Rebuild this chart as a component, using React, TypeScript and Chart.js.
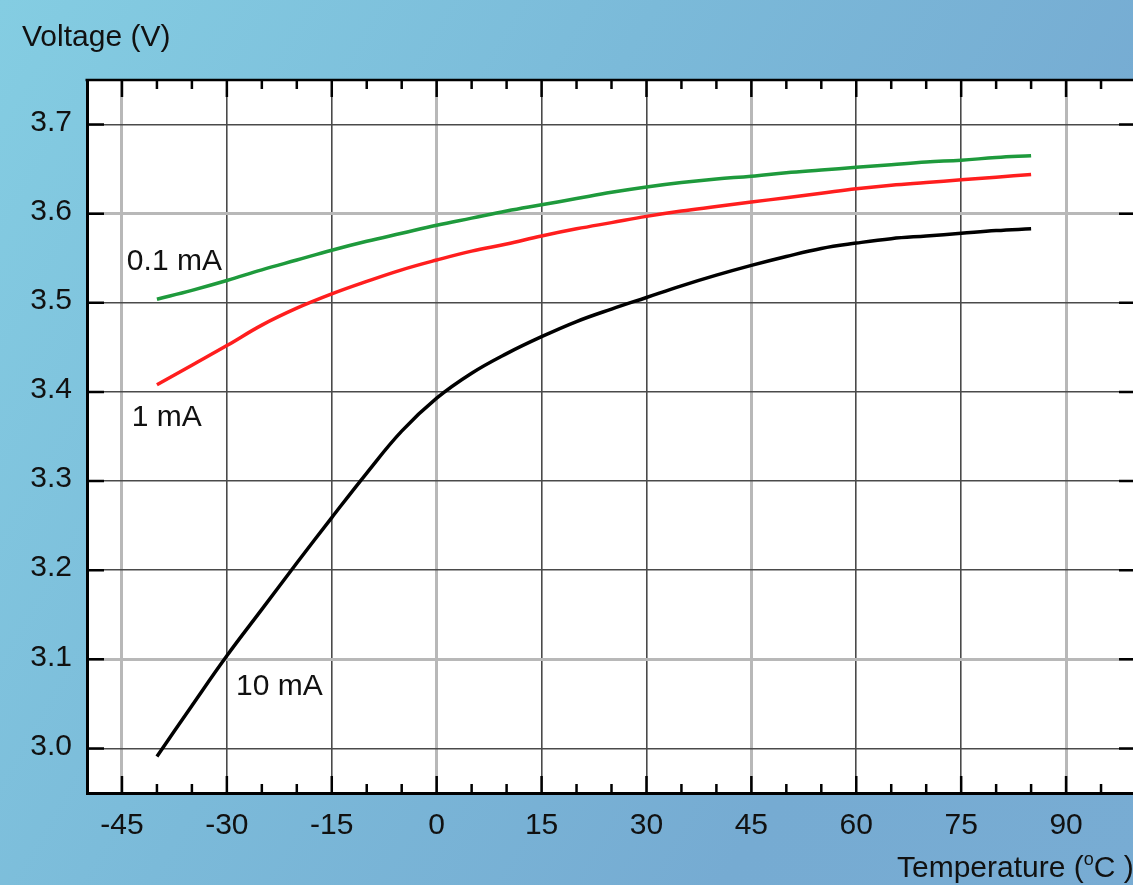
import React, { useEffect, useRef } from "react";
import { Chart, registerables } from "chart.js";

Chart.register(...registerables);

const temperatures = [-40, -35, -30, -25, -20, -15, -10, -5, 0, 5, 10, 15, 20, 25, 30, 35, 40, 45, 50, 55, 60, 65, 70, 75, 80, 85];
const v01mA = [3.504, 3.514, 3.525, 3.537, 3.548, 3.559, 3.569, 3.578, 3.587, 3.595, 3.603, 3.610, 3.617, 3.624, 3.630, 3.635, 3.639, 3.642, 3.646, 3.649, 3.652, 3.655, 3.658, 3.660, 3.663, 3.665];
const v1mA = [3.408, 3.430, 3.452, 3.475, 3.494, 3.510, 3.524, 3.537, 3.548, 3.558, 3.566, 3.575, 3.583, 3.590, 3.597, 3.603, 3.608, 3.613, 3.618, 3.623, 3.628, 3.632, 3.635, 3.638, 3.641, 3.644];
const v10mA = [2.991, 3.048, 3.104, 3.156, 3.208, 3.259, 3.309, 3.356, 3.393, 3.421, 3.443, 3.462, 3.479, 3.493, 3.506, 3.519, 3.531, 3.542, 3.552, 3.561, 3.567, 3.572, 3.575, 3.578, 3.581, 3.583];

const xTickValues = [-45, -30, -15, 0, 15, 30, 45, 60, 75, 90];
const xMinorTickValues = [-40, -35, -25, -20, -10, -5, 5, 10, 20, 25, 35, 40, 50, 55, 65, 70, 80, 85, 95];
const yTickValues = [3.0, 3.1, 3.2, 3.3, 3.4, 3.5, 3.6, 3.7];
const xLightGrid = [-45, 0, 45, 90];
const yLightGrid = [3.1, 3.6];

const seriesNames = ["0.1 mA", "1 mA", "10 mA"];
const seriesLabelTemp = [-44.3, -43.6, -28.7];
const seriesLabelVolt = [3.546, 3.371, 3.069];

const xTitle = "Temperature (";
const xTitleSup = "o";
const xTitleEnd = "C )";
const yTitle = "Voltage (V)";

const FONT = "'Liberation Sans', Arial, sans-serif";

const decorPlugin = {
  id: "decor",
  beforeDraw(chart: any) {
    const { ctx, chartArea } = chart;
    ctx.save();
    ctx.fillStyle = "#ffffff";
    ctx.fillRect(chartArea.left, chartArea.top, chartArea.right - chartArea.left, chartArea.bottom - chartArea.top);
    ctx.restore();
  },
  beforeDatasetsDraw(chart: any) {
    const { ctx, chartArea, scales } = chart;
    const x = scales.x;
    const y = scales.y;
    ctx.save();
    ctx.strokeStyle = "#000";
    ctx.lineWidth = 2.5;
    ctx.beginPath();
    ctx.moveTo(chartArea.left - 1.5, chartArea.top);
    ctx.lineTo(chartArea.right, chartArea.top);
    ctx.moveTo(chartArea.right, chartArea.top);
    ctx.lineTo(chartArea.right, chartArea.bottom);
    for (const v of xTickValues) {
      const px = x.getPixelForValue(v);
      ctx.moveTo(px, chartArea.top);
      ctx.lineTo(px, chartArea.top + 17);
      ctx.moveTo(px, chartArea.bottom);
      ctx.lineTo(px, chartArea.bottom - 17);
    }
    for (const v of xMinorTickValues) {
      const px = x.getPixelForValue(v);
      ctx.moveTo(px, chartArea.top);
      ctx.lineTo(px, chartArea.top + 9);
      ctx.moveTo(px, chartArea.bottom);
      ctx.lineTo(px, chartArea.bottom - 9);
    }
    for (const v of yTickValues) {
      const py = y.getPixelForValue(v);
      ctx.moveTo(chartArea.left, py);
      ctx.lineTo(chartArea.left + 17, py);
      ctx.moveTo(chartArea.right, py);
      ctx.lineTo(chartArea.right - 17, py);
    }
    ctx.stroke();
    ctx.restore();
  },
  afterDraw(chart: any) {
    const { ctx, scales } = chart;
    const x = scales.x;
    const y = scales.y;
    ctx.save();
    ctx.fillStyle = "#111";
    ctx.textBaseline = "middle";
    ctx.textAlign = "left";
    ctx.font = `30px ${FONT}`;
    seriesNames.forEach((name, i) => {
      ctx.fillText(name, x.getPixelForValue(seriesLabelTemp[i]), y.getPixelForValue(seriesLabelVolt[i]));
    });
    ctx.textBaseline = "alphabetic";
    ctx.fillText(yTitle, 22, 46);
    let tx = 897;
    const ty = 877;
    ctx.fillText(xTitle, tx, ty);
    tx += ctx.measureText(xTitle).width;
    ctx.font = `18px ${FONT}`;
    ctx.fillText(xTitleSup, tx, ty - 12);
    tx += ctx.measureText(xTitleSup).width;
    ctx.font = `30px ${FONT}`;
    ctx.fillText(xTitleEnd, tx, ty);
    ctx.restore();
  },
};

export default function App() {
  const canvasRef = useRef<HTMLCanvasElement | null>(null);

  useEffect(() => {
    document.body.style.margin = "0";
    document.body.style.overflow = "hidden";
    const canvas = canvasRef.current;
    if (!canvas) return;
    const mk = (label: string, vals: number[], color: string) => ({
      label,
      data: temperatures.map((t, i) => ({ x: t, y: vals[i] })),
      borderColor: color,
      borderWidth: 3.5,
      pointRadius: 0,
      tension: 0.4,
    });
    const chart = new Chart(canvas, {
      type: "line",
      data: {
        datasets: [
          mk(seriesNames[0], v01mA, "#1e9a3c"),
          mk(seriesNames[1], v1mA, "#ff1e1e"),
          mk(seriesNames[2], v10mA, "#000000"),
        ],
      },
      options: {
        animation: false,
        responsive: true,
        maintainAspectRatio: false,
        layout: { padding: { top: 80, right: 24, left: 0, bottom: 0 } },
        plugins: {
          legend: { display: false },
          tooltip: { enabled: false },
        },
        scales: {
          x: {
            type: "linear",
            min: -50,
            max: 100,
            afterBuildTicks: (scale: any) => {
              scale.ticks = xTickValues.map((v) => ({ value: v }));
            },
            afterFit: (scale: any) => {
              scale.height = 92;
            },
            ticks: {
              font: { family: FONT, size: 30 },
              color: "#111",
              padding: 15,
              maxRotation: 0,
              autoSkip: false,
              callback: (v: any) => String(v),
            },
            grid: {
              drawTicks: false,
              color: (c: any) => (xLightGrid.includes(c.tick?.value) ? "#b8b8b8" : "#4a4a4a"),
              lineWidth: (c: any) => (xLightGrid.includes(c.tick?.value) ? 3 : 1.6),
            },
            border: { display: true, color: "#000", width: 3 },
          },
          y: {
            type: "linear",
            min: 2.95,
            max: 3.75,
            afterBuildTicks: (scale: any) => {
              scale.ticks = yTickValues.map((v) => ({ value: v }));
            },
            afterFit: (scale: any) => {
              scale.width = 87;
            },
            ticks: {
              font: { family: FONT, size: 30 },
              color: "#111",
              padding: 15,
              labelOffset: -2,
              autoSkip: false,
              callback: (v: any) => Number(v).toFixed(1),
            },
            grid: {
              drawTicks: false,
              color: (c: any) => (yLightGrid.includes(c.tick?.value) ? "#b8b8b8" : "#4a4a4a"),
              lineWidth: (c: any) => (yLightGrid.includes(c.tick?.value) ? 3 : 1.6),
            },
            border: { display: true, color: "#000", width: 3 },
          },
        },
      },
      plugins: [decorPlugin],
    } as any);
    return () => chart.destroy();
  }, []);

  return (
    <div
      style={{
        position: "fixed",
        left: 0,
        top: 0,
        width: 1133,
        height: 885,
        overflow: "hidden",
        background: "linear-gradient(120deg, #84cde2 0%, #7bbad9 40%, #76abd2 75%, #78acd3 100%)",
      }}
    >
      <div style={{ position: "absolute", left: 0, top: 0, width: 1160, height: 885 }}>
        <canvas ref={canvasRef} />
      </div>
    </div>
  );
}
